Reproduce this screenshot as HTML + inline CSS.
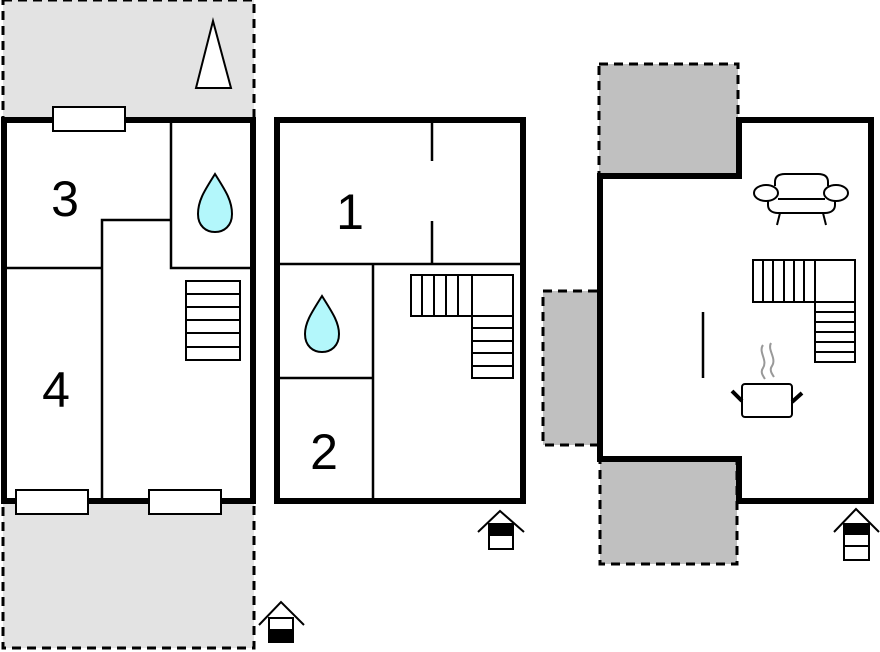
<!DOCTYPE html>
<html><head><meta charset="utf-8"><style>html,body{margin:0;padding:0;background:#fff}svg{display:block}</style></head>
<body>
<svg width="880" height="652" viewBox="0 0 880 652" xmlns="http://www.w3.org/2000/svg" font-family="Liberation Sans, sans-serif">
<!-- left gray areas -->
<rect x="3" y="0" width="251" height="119" fill="#e3e3e3" stroke="#000" stroke-width="3" stroke-dasharray="9,6"/>
<rect x="3" y="502" width="251" height="146" fill="#e3e3e3" stroke="#000" stroke-width="3" stroke-dasharray="9,6"/>
<polygon points="213,21 196,88 231,88" fill="#fff" stroke="#000" stroke-width="2"/>
<rect x="4" y="120" width="249" height="381" fill="#fff" stroke="#000" stroke-width="6"/>
<g stroke="#000" stroke-width="2.5" fill="none">
<path d="M171,121 V268 H253 M102,500 V220 H171 M5,268 H102"/>
</g>
<rect x="53" y="107" width="72" height="24" fill="#fff" stroke="#000" stroke-width="2"/>
<rect x="16" y="490" width="72" height="24" fill="#fff" stroke="#000" stroke-width="2"/>
<rect x="149" y="490" width="72" height="24" fill="#fff" stroke="#000" stroke-width="2"/>
<g stroke="#000" stroke-width="2" fill="#fff"><rect x="186" y="281" width="54" height="79"/>
<path d="M186,294 H240 M186,307 H240 M186,320 H240 M186,333 H240 M186,347 H240"/></g>
<path d="M215,174 C205,190 198,200 198,214 C198,226 206,232 215,232 C224,232 232,226 232,214 C232,200 225,190 215,174Z" fill="#b3f7fb" stroke="#000" stroke-width="2"/>
<text x="65" y="216" font-size="50" text-anchor="middle">3</text>
<text x="56" y="407" font-size="50" text-anchor="middle">4</text>
<!-- entry icon left -->
<g stroke="#000" stroke-width="2" fill="#fff"><path d="M259,625 L281,602 L304,625" fill="none"/>
<rect x="269" y="618" width="24" height="24"/><rect x="269" y="630" width="24" height="12" fill="#000"/></g>

<!-- middle building -->
<rect x="277" y="120" width="246" height="381" fill="#fff" stroke="#000" stroke-width="6"/>
<g stroke="#000" stroke-width="2.5" fill="none">
<path d="M279,264 H521 M432,122 V161 M432,221 V264 M373,264 V499 M279,378 H373"/>
</g>
<g stroke="#000" stroke-width="2" fill="#fff">
<rect x="411" y="275" width="61" height="41"/><rect x="472" y="275" width="41" height="41"/>
<rect x="472" y="316" width="41" height="62"/>
<path d="M422,275 V316 M434,275 V316 M446,275 V316 M458,275 V316 M472,328 H513 M472,341 H513 M472,353 H513 M472,366 H513"/></g>
<path d="M322,296 C312,312 305,322 305,334 C305,346 313,352 322,352 C331,352 339,346 339,334 C339,322 332,312 322,296Z" fill="#b3f7fb" stroke="#000" stroke-width="2"/>
<text x="350" y="229" font-size="50" text-anchor="middle">1</text>
<text x="324" y="469" font-size="50" text-anchor="middle">2</text>
<g stroke="#000" stroke-width="2" fill="#fff"><path d="M478,532 L500,511 L524,532" fill="none"/>
<rect x="489" y="524" width="24" height="25"/><rect x="489" y="524" width="24" height="11" fill="#000"/></g>

<!-- right building -->
<rect x="599" y="64" width="139" height="114" fill="#c0c0c0" stroke="#000" stroke-width="3" stroke-dasharray="9,6"/>
<rect x="543" y="291" width="56" height="154" fill="#c0c0c0" stroke="#000" stroke-width="3" stroke-dasharray="9,6"/>
<rect x="600" y="458" width="137" height="106" fill="#c0c0c0" stroke="#000" stroke-width="3" stroke-dasharray="9,6"/>
<polygon points="600,176 739,176 739,120 871,120 871,501 739,501 739,459 600,459" fill="#fff" stroke="#000" stroke-width="6"/>
<!-- sofa -->
<g stroke="#000" stroke-width="2" fill="#fff">
<path d="M775,186 V182 C775,176 779,174 785,174 H818 C824,174 828,176 828,182 V186"/>
<path d="M768,200 V205 C768,210 772,213 778,213 H825 C831,213 835,210 835,205 V200"/>
<ellipse cx="766" cy="193" rx="12" ry="8"/><ellipse cx="836" cy="193" rx="12" ry="8"/>
<path d="M778,199 H825 M780,213 L777,225 M823,213 L826,225"/>
</g>
<g stroke="#000" stroke-width="2" fill="#fff">
<rect x="753" y="260" width="62" height="42"/><rect x="815" y="260" width="40" height="42"/>
<rect x="815" y="302" width="40" height="60"/>
<path d="M763,260 V302 M773,260 V302 M784,260 V302 M794,260 V302 M804,260 V302 M815,312 H855 M815,322 H855 M815,332 H855 M815,342 H855 M815,352 H855"/></g>
<path d="M703,312 V378" stroke="#000" stroke-width="2.5"/>
<g fill="none" stroke="#999" stroke-width="2"><path d="M763,345 C758,352 768,360 763,368 C760,372 763,376 765,379"/><path d="M771,343 C767,350 777,358 772,366 C769,370 772,374 774,377"/></g>
<g stroke="#000" stroke-width="2" fill="#fff"><rect x="742" y="384" width="50" height="33" rx="3"/></g>
<path d="M732,391 L742,401 M802,393 L792,402" stroke="#000" stroke-width="4"/>
<g stroke="#000" stroke-width="2" fill="#fff"><path d="M834,532 L856,509 L879,532" fill="none"/>
<rect x="844" y="524" width="25" height="36"/><rect x="844" y="524" width="25" height="10" fill="#000"/><path d="M844,546 H869"/></g>
</svg>
</body></html>
